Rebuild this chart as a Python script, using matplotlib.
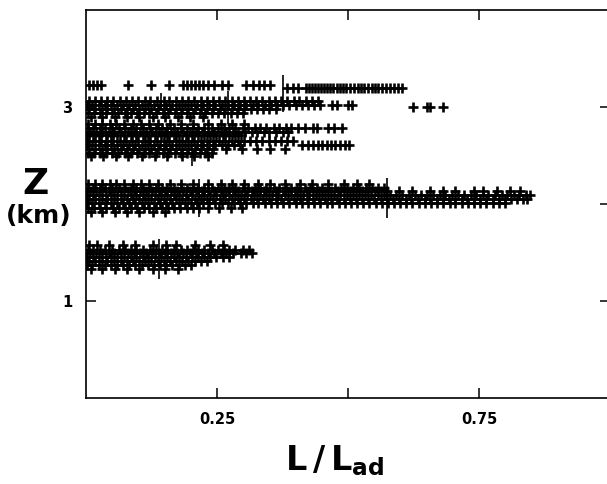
import numpy as np
import matplotlib
matplotlib.use("Agg")
import matplotlib.pyplot as plt

# L/Lad against altitude, one stripe per flight level
# each band: list of row altitudes (km) and the L/Lad values read along each row
band_a_z = [1.58, 1.53, 1.49, 1.45, 1.41, 1.37, 1.33]
band_a_x = [
    [0.006, 0.021, 0.044, 0.071, 0.093, 0.128, 0.152, 0.171, 0.208, 0.236, 0.262],
    [0.003, 0.014, 0.027, 0.037, 0.049, 0.063, 0.074, 0.086, 0.096, 0.108, 0.122, 0.133, 0.145, 0.155,
     0.167, 0.181, 0.192, 0.204, 0.214, 0.226, 0.240, 0.251, 0.263, 0.273, 0.285, 0.299, 0.311],
    [0.008, 0.020, 0.031, 0.044, 0.054, 0.067, 0.080, 0.091, 0.103, 0.114, 0.126, 0.139, 0.150, 0.162,
     0.173, 0.185, 0.198, 0.209, 0.221, 0.232, 0.244, 0.257, 0.268, 0.280, 0.295, 0.306, 0.317],
    [0.002, 0.013, 0.025, 0.038, 0.048, 0.060, 0.073, 0.085, 0.096, 0.108, 0.119, 0.131, 0.144, 0.155,
     0.167, 0.178, 0.190, 0.203, 0.214, 0.226, 0.237, 0.249, 0.262, 0.273],
    [0.006, 0.018, 0.030, 0.041, 0.053, 0.066, 0.078, 0.089, 0.101, 0.113, 0.124, 0.137, 0.149, 0.160,
     0.172, 0.184, 0.195, 0.208, 0.220, 0.231],
    [0.001, 0.012, 0.024, 0.036, 0.047, 0.059, 0.071, 0.083, 0.094, 0.106, 0.118, 0.130, 0.141, 0.153,
     0.165, 0.177, 0.188, 0.200],
    [0.009, 0.031, 0.055, 0.079, 0.102, 0.128, 0.151, 0.176],
]

band_b_z = [2.21, 2.17, 2.13, 2.09, 2.05, 2.01, 1.96, 1.92]
band_b_x = [
    [0.004, 0.017, 0.031, 0.046, 0.058, 0.073, 0.089, 0.105, 0.121, 0.138, 0.160, 0.181, 0.205, 0.232,
     0.258, 0.279, 0.301, 0.329, 0.352, 0.380, 0.408, 0.431, 0.462, 0.492, 0.517, 0.541],
    [0.003, 0.014, 0.027, 0.037, 0.049, 0.063, 0.074, 0.086, 0.096, 0.108, 0.122, 0.133, 0.145, 0.155,
     0.167, 0.181, 0.192, 0.204, 0.214, 0.226, 0.240, 0.251, 0.263, 0.273, 0.285, 0.299, 0.310, 0.322,
     0.332, 0.344, 0.358, 0.369, 0.381, 0.391, 0.403, 0.417, 0.428, 0.440, 0.450, 0.462, 0.476, 0.487,
     0.499, 0.509, 0.521, 0.535, 0.546, 0.558, 0.568],
    [0.008, 0.020, 0.031, 0.044, 0.054, 0.067, 0.080, 0.091, 0.103, 0.114, 0.126, 0.139, 0.150, 0.162,
     0.173, 0.185, 0.198, 0.209, 0.221, 0.232, 0.244, 0.257, 0.268, 0.280, 0.291, 0.303, 0.316, 0.327,
     0.339, 0.350, 0.362, 0.375, 0.386, 0.398, 0.409, 0.421, 0.434, 0.445, 0.457, 0.468, 0.480, 0.493,
     0.504, 0.516, 0.527, 0.539, 0.552, 0.563, 0.575, 0.598, 0.622, 0.657, 0.681, 0.704, 0.740, 0.758,
     0.784, 0.809, 0.828],
    [0.002, 0.013, 0.025, 0.038, 0.048, 0.060, 0.073, 0.085, 0.096, 0.108, 0.119, 0.131, 0.144, 0.155,
     0.167, 0.178, 0.190, 0.203, 0.214, 0.226, 0.237, 0.249, 0.262, 0.273, 0.285, 0.296, 0.308, 0.321,
     0.332, 0.344, 0.355, 0.367, 0.380, 0.391, 0.403, 0.414, 0.426, 0.439, 0.450, 0.462, 0.473, 0.485,
     0.498, 0.509, 0.521, 0.532, 0.544, 0.557, 0.568, 0.580, 0.591, 0.603, 0.616, 0.627, 0.639, 0.650,
     0.662, 0.675, 0.686, 0.698, 0.709, 0.721, 0.734, 0.745, 0.757, 0.768, 0.780, 0.793, 0.804, 0.816,
     0.827, 0.839, 0.848],
    [0.006, 0.018, 0.030, 0.041, 0.053, 0.066, 0.078, 0.089, 0.101, 0.113, 0.124, 0.137, 0.149, 0.160,
     0.172, 0.184, 0.195, 0.208, 0.220, 0.231, 0.243, 0.255, 0.266, 0.279, 0.291, 0.302, 0.314, 0.326,
     0.337, 0.350, 0.362, 0.373, 0.385, 0.397, 0.408, 0.421, 0.433, 0.444, 0.456, 0.468, 0.479, 0.492,
     0.504, 0.515, 0.527, 0.539, 0.550, 0.563, 0.575, 0.586, 0.598, 0.610, 0.621, 0.634, 0.646, 0.657,
     0.669, 0.681, 0.692, 0.705, 0.717, 0.728, 0.740, 0.752, 0.763, 0.776, 0.788, 0.799, 0.811, 0.823,
     0.834, 0.842],
    [0.001, 0.012, 0.024, 0.036, 0.047, 0.059, 0.071, 0.083, 0.094, 0.106, 0.118, 0.130, 0.141, 0.153,
     0.165, 0.177, 0.188, 0.200, 0.212, 0.224, 0.235, 0.247, 0.259, 0.271, 0.282, 0.294, 0.306, 0.318,
     0.329, 0.341, 0.353, 0.365, 0.376, 0.388, 0.400, 0.412, 0.423, 0.435, 0.447, 0.459, 0.470, 0.482,
     0.494, 0.506, 0.517, 0.529, 0.541, 0.553, 0.564, 0.576, 0.588, 0.600, 0.611, 0.623, 0.635, 0.647,
     0.658, 0.670, 0.682, 0.694, 0.705, 0.717, 0.729, 0.741, 0.752, 0.764, 0.776, 0.788, 0.799],
    [0.004, 0.016, 0.027, 0.039, 0.051, 0.063, 0.074, 0.086, 0.098, 0.110, 0.121, 0.133, 0.145, 0.157,
     0.168, 0.180, 0.192, 0.204, 0.215, 0.233, 0.254, 0.276, 0.298],
    [0.009, 0.031, 0.055, 0.079, 0.102, 0.128, 0.151],
]

band_c_z = [2.82, 2.78, 2.74, 2.71, 2.65, 2.61, 2.57, 2.53, 2.49]
band_c_x = [
    [0.004, 0.017, 0.031, 0.046, 0.058, 0.073, 0.089, 0.105, 0.121, 0.138, 0.160, 0.181, 0.205, 0.232,
     0.258, 0.279, 0.301],
    [0.003, 0.014, 0.027, 0.037, 0.049, 0.063, 0.074, 0.086, 0.096, 0.108, 0.122, 0.133, 0.145, 0.155,
     0.167, 0.181, 0.192, 0.204, 0.214, 0.226, 0.240, 0.251, 0.263, 0.273, 0.285, 0.299, 0.310, 0.322,
     0.332, 0.344, 0.358, 0.369, 0.381, 0.391, 0.405, 0.418, 0.433, 0.441, 0.462, 0.474, 0.489],
    [0.008, 0.020, 0.031, 0.044, 0.054, 0.067, 0.080, 0.091, 0.103, 0.114, 0.126, 0.139, 0.150, 0.162,
     0.173, 0.185, 0.198, 0.209, 0.221, 0.232, 0.244, 0.257, 0.268, 0.280, 0.291, 0.303, 0.316, 0.327,
     0.339, 0.350, 0.362, 0.375, 0.386],
    [0.002, 0.013, 0.025, 0.038, 0.048, 0.060, 0.073, 0.085, 0.096, 0.108, 0.119, 0.131, 0.144, 0.155,
     0.167, 0.178, 0.190, 0.203, 0.214, 0.226, 0.237, 0.249, 0.262, 0.273, 0.285, 0.296],
    [0.005, 0.017, 0.029, 0.040, 0.052, 0.065, 0.077, 0.088, 0.100, 0.112, 0.123, 0.136, 0.148, 0.159,
     0.171, 0.183, 0.194, 0.207, 0.219, 0.230, 0.242, 0.254, 0.265, 0.278, 0.290, 0.301, 0.313, 0.325,
     0.336, 0.349, 0.361, 0.372, 0.384, 0.395],
    [0.001, 0.012, 0.024, 0.036, 0.047, 0.059, 0.071, 0.083, 0.094, 0.106, 0.118, 0.130, 0.141, 0.153,
     0.165, 0.177, 0.188, 0.200, 0.212, 0.224, 0.235, 0.247, 0.259, 0.271, 0.282, 0.294, 0.413, 0.424,
     0.433, 0.442, 0.451, 0.459, 0.468, 0.476, 0.485, 0.494, 0.502],
    [0.006, 0.018, 0.030, 0.041, 0.053, 0.066, 0.078, 0.089, 0.101, 0.113, 0.124, 0.137, 0.149, 0.160,
     0.172, 0.184, 0.195, 0.208, 0.220, 0.231, 0.243, 0.268, 0.297, 0.326, 0.352, 0.379],
    [0.003, 0.015, 0.026, 0.039, 0.050, 0.062, 0.075, 0.086, 0.098, 0.110, 0.121, 0.134, 0.146, 0.157,
     0.169, 0.181, 0.192, 0.205, 0.217, 0.228, 0.240],
    [0.010, 0.033, 0.057, 0.080, 0.106, 0.131, 0.155, 0.183, 0.207, 0.232],
]

band_d_z = [3.06, 3.02, 3.00, 2.98, 2.94, 2.90]
band_d_x = [
    [0.005, 0.017, 0.029, 0.040, 0.052, 0.065, 0.077, 0.088, 0.100, 0.112, 0.123, 0.136, 0.148, 0.159,
     0.171, 0.183, 0.194, 0.207, 0.219, 0.230, 0.242, 0.254, 0.265, 0.278, 0.290, 0.301, 0.313, 0.325,
     0.336, 0.349, 0.361, 0.372, 0.384, 0.396, 0.407, 0.420, 0.432, 0.443],
    [0.001, 0.012, 0.024, 0.036, 0.047, 0.059, 0.071, 0.083, 0.094, 0.106, 0.118, 0.130, 0.141, 0.153,
     0.165, 0.177, 0.188, 0.200, 0.212, 0.224, 0.235, 0.247, 0.259, 0.271, 0.282, 0.294, 0.306, 0.318,
     0.329, 0.341, 0.353, 0.365, 0.376, 0.388, 0.400, 0.412, 0.423, 0.435, 0.447, 0.470, 0.479, 0.500,
     0.508],
    [0.624, 0.651, 0.656, 0.681],
    [0.006, 0.018, 0.030, 0.041, 0.053, 0.066, 0.078, 0.089, 0.101, 0.113, 0.124, 0.137, 0.149, 0.160,
     0.172, 0.184, 0.195, 0.208, 0.220, 0.231, 0.243, 0.255, 0.266, 0.279, 0.291, 0.302, 0.314, 0.326,
     0.337, 0.350, 0.362],
    [0.003, 0.015, 0.026, 0.039, 0.050, 0.062, 0.075, 0.086, 0.098, 0.110, 0.121, 0.134, 0.146, 0.157,
     0.169, 0.181, 0.192, 0.205, 0.217, 0.228, 0.240, 0.252, 0.263, 0.276, 0.288, 0.300],
    [0.009, 0.031, 0.055, 0.079, 0.102, 0.128, 0.151, 0.176, 0.199, 0.224],
]

band_e_z = [3.23, 3.20]
band_e_x = [
    [0.006, 0.013, 0.021, 0.029, 0.080, 0.124, 0.158, 0.185, 0.193, 0.200, 0.208, 0.216, 0.224, 0.233,
     0.244, 0.260, 0.271, 0.305, 0.319, 0.330, 0.340, 0.351],
    [0.384, 0.395, 0.405, 0.420, 0.426, 0.431, 0.437, 0.443, 0.448, 0.454, 0.460, 0.466, 0.471, 0.479,
     0.485, 0.490, 0.496, 0.504, 0.511, 0.519, 0.525, 0.531, 0.538, 0.546, 0.552, 0.557, 0.565, 0.573,
     0.580, 0.588, 0.595, 0.603],
]

# long vertical strokes crossing some stripes
spike_x = [0.139, 0.216, 0.574, 0.375, 0.144, 0.271, 0.202]
spike_lo = [1.23, 1.87, 1.86, 2.95, 2.97, 2.82, 2.39]
spike_hi = [1.64, 2.26, 2.27, 3.33, 3.14, 3.16, 2.57]

plt.rcParams['font.family'] = 'DejaVu Sans'
plt.rcParams['font.weight'] = 'bold'

fig = plt.figure(figsize=(6.07, 4.84), dpi=100)
ax = fig.add_axes([86/607, 86/484, 524/607, 388/484])

bands = [(band_a_z, band_a_x), (band_b_z, band_b_x), (band_c_z, band_c_x),
         (band_d_z, band_d_x), (band_e_z, band_e_x)]
for zs, xs in bands:
    for z, row in zip(zs, xs):
        ax.plot(row, [z] * len(row), '+', color='black', ms=6.5, mew=1.9)

ax.vlines(spike_x, spike_lo, spike_hi, color='black', lw=1.2)

ax.set_xlim(0, 1)
ax.set_ylim(0, 4)
ax.set_xticks([0.25, 0.5, 0.75])
ax.set_xticklabels(['0.25', '', '0.75'])
ax.set_yticks([1, 2, 3])
ax.set_yticklabels(['1', '', '3'])
ax.tick_params(direction='in', length=7, width=1.1, top=True, right=True,
               labelsize=10.5, pad=10)
for s in ax.spines.values():
    s.set_linewidth(1.2)

fig.text(35/607, 1 - 184/484, 'Z', fontsize=26, fontweight='bold', ha='center', va='center')
fig.text(39/607, 1 - 216/484, '(km)', fontsize=18, fontweight='bold', ha='center', va='center')
fig.text(335/607, 1 - 470/484, r'$\mathbf{L\,/\,L_{ad}}$', fontsize=24, ha='center', va='baseline')

fig.savefig('out.png', dpi=100)
